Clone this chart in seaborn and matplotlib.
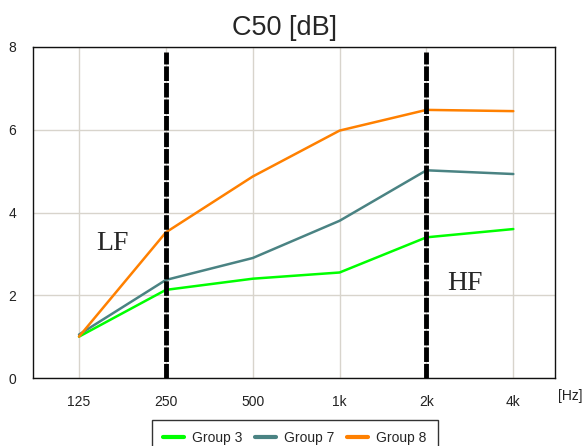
import matplotlib
matplotlib.use("Agg")
import matplotlib.pyplot as plt
import seaborn as sns
import pandas as pd
from matplotlib.lines import Line2D

freqs = ["125", "250", "500", "1k", "2k", "4k"]
group3 = [1.00, 2.13, 2.40, 2.55, 3.40, 3.60]
group7 = [1.05, 2.37, 2.90, 3.80, 5.02, 4.93]
group8 = [1.00, 3.52, 4.87, 5.98, 6.48, 6.45]
series_names = ["Group 3", "Group 7", "Group 8"]
colors = ["#00ff00", "#4a8383", "#ff8000"]

sns.set_style("white")
plt.rcParams['font.family'] = ['Liberation Sans', 'DejaVu Sans']

rows = []
for name, vals in zip(series_names, [group3, group7, group8]):
    for i, (f, v) in enumerate(zip(freqs, vals)):
        rows.append({"idx": i, "freq": f, "value": v, "group": name})
df = pd.DataFrame(rows)

fig = plt.figure(figsize=(5.87, 4.46), dpi=100)
ax = fig.add_axes([33/587, 68/446, 522/587, 331/446])

sns.lineplot(data=df, x="idx", y="value", hue="group", palette=colors,
             hue_order=series_names, linewidth=1.8, ax=ax, legend=False)

ax.set_xlim(-0.53, 5.48)
ax.set_ylim(0, 8)
ax.set_xticks(range(len(freqs)))
ax.set_xticklabels(freqs)
ax.set_yticks([0, 2, 4, 6, 8])
ax.set_yticklabels(["0", "2", "4", "6", "8"])
ax.tick_params(axis='both', length=0, labelsize=10, colors="#222222")
ax.tick_params(axis='x', pad=12)
ax.tick_params(axis='y', pad=12)
ax.grid(True, color="#d8d4cc", linewidth=1)
ax.set_axisbelow(True)
for s in ax.spines.values():
    s.set_color("#111111")
    s.set_linewidth(1)
ax.set_xlabel("")
ax.set_ylabel("")

for xi in [1, 4]:
    ax.plot([xi, xi], [0, 7.88], color="black", linewidth=3.5,
            linestyle=(0, (3, 0.4)), zorder=5, solid_capstyle='butt')

ax.text(0.39, 3.26, "LF", fontsize=20, family=['Liberation Serif'], ha='center', va='center')
ax.text(4.44, 2.29, "HF", fontsize=20, family=['Liberation Serif'], ha='center', va='center')

fig.text(285/587, 1 - 28/446, "C50 [dB]", fontsize=19.5, ha='center', va='center')
fig.text(570/587, 1 - 396/446, "[Hz]", fontsize=10, ha='center', va='center', color="#222222")

handles = [Line2D([0], [0], color=c, linewidth=3) for c in colors]
leg = fig.legend(handles, series_names, loc='upper center', ncol=3,
                 bbox_to_anchor=(295/587, 1 - 413/446), bbox_transform=fig.transFigure,
                 frameon=True, fontsize=10, handlelength=1.5, handletextpad=0.6,
                 columnspacing=0.9, fancybox=False, borderpad=0.8)
leg.get_frame().set_edgecolor("black")
leg.get_frame().set_linewidth(1)

fig.savefig("out.png", dpi=100)
